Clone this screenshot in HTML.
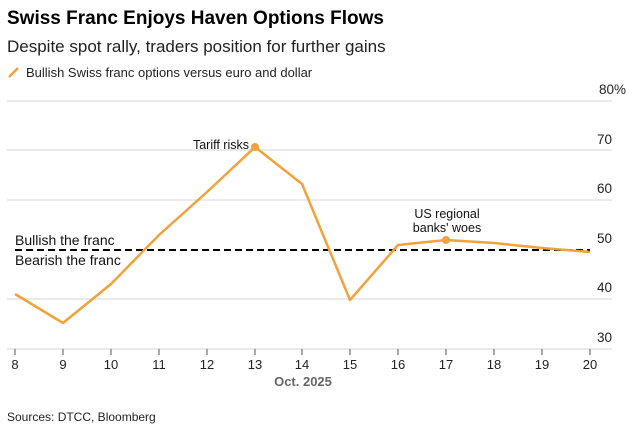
<!DOCTYPE html><html><head><style>body{margin:0;background:#fff;font-family:"Liberation Sans",sans-serif}</style></head><body>
<svg width="639" height="436" xmlns="http://www.w3.org/2000/svg" font-family="Liberation Sans, sans-serif">
<text x="7" y="24" font-size="19" font-weight="bold" fill="#000">Swiss Franc Enjoys Haven Options Flows</text>
<text x="7" y="52" font-size="17" fill="#222">Despite spot rally, traders position for further gains</text>
<line x1="9" y1="77" x2="18" y2="68" stroke="#f2a23a" stroke-width="2.5"/>
<text x="26" y="77" font-size="13" fill="#222">Bullish Swiss franc options versus euro and dollar</text>
<g stroke="#ddd" stroke-width="1.2">
<line x1="7" y1="101" x2="612" y2="101"/><line x1="7" y1="150" x2="612" y2="150"/><line x1="7" y1="200" x2="612" y2="200"/><line x1="7" y1="299" x2="612" y2="299"/><line x1="7" y1="349" x2="612" y2="349"/></g>
<g font-size="13.5" fill="#222" text-anchor="end">
<text x="626" y="94">80%</text><text x="612" y="144">70</text><text x="612" y="193">60</text><text x="612" y="243">50</text><text x="612" y="292">40</text><text x="612" y="342">30</text></g>
<g stroke="#555" stroke-width="1">
<line x1="15" y1="349" x2="15" y2="355"/><line x1="63" y1="349" x2="63" y2="355"/><line x1="111" y1="349" x2="111" y2="355"/><line x1="159" y1="349" x2="159" y2="355"/><line x1="207" y1="349" x2="207" y2="355"/><line x1="255" y1="349" x2="255" y2="355"/><line x1="302" y1="349" x2="302" y2="355"/><line x1="350" y1="349" x2="350" y2="355"/><line x1="398" y1="349" x2="398" y2="355"/><line x1="446" y1="349" x2="446" y2="355"/><line x1="494" y1="349" x2="494" y2="355"/><line x1="542" y1="349" x2="542" y2="355"/><line x1="590" y1="349" x2="590" y2="355"/></g>
<g font-size="13" fill="#222" text-anchor="middle">
<text x="15" y="369">8</text><text x="63" y="369">9</text><text x="111" y="369">10</text><text x="159" y="369">11</text><text x="207" y="369">12</text><text x="255" y="369">13</text><text x="302" y="369">14</text><text x="350" y="369">15</text><text x="398" y="369">16</text><text x="446" y="369">17</text><text x="494" y="369">18</text><text x="542" y="369">19</text><text x="590" y="369">20</text></g>
<text x="303" y="386" font-size="13" font-weight="bold" fill="#666" text-anchor="middle">Oct. 2025</text>
<line x1="15" y1="250" x2="590" y2="250" stroke="#000" stroke-width="2" stroke-dasharray="7,4"/>
<text x="15" y="245" font-size="14" fill="#111">Bullish the franc</text>
<text x="15" y="265" font-size="14" fill="#111">Bearish the franc</text>
<polyline fill="none" stroke="#f2a23a" stroke-width="2.5" stroke-linejoin="round" points="15,294 63,323 111,284 159,235 207,192 255,147 302,184 350,300 398,245 446,240 494,243 542,248 590,252"/>
<circle cx="255" cy="147" r="4" fill="#f2a23a"/><circle cx="446" cy="240" r="4" fill="#f2a23a"/>
<text x="249" y="149" font-size="12.5" fill="#111" text-anchor="end">Tariff risks</text>
<text x="447" y="218" font-size="12.5" fill="#111" text-anchor="middle">US regional</text>
<text x="447" y="232" font-size="12.5" fill="#111" text-anchor="middle">banks' woes</text>
<text x="7" y="421" font-size="12" fill="#222">Sources: DTCC, Bloomberg</text>
</svg></body></html>
